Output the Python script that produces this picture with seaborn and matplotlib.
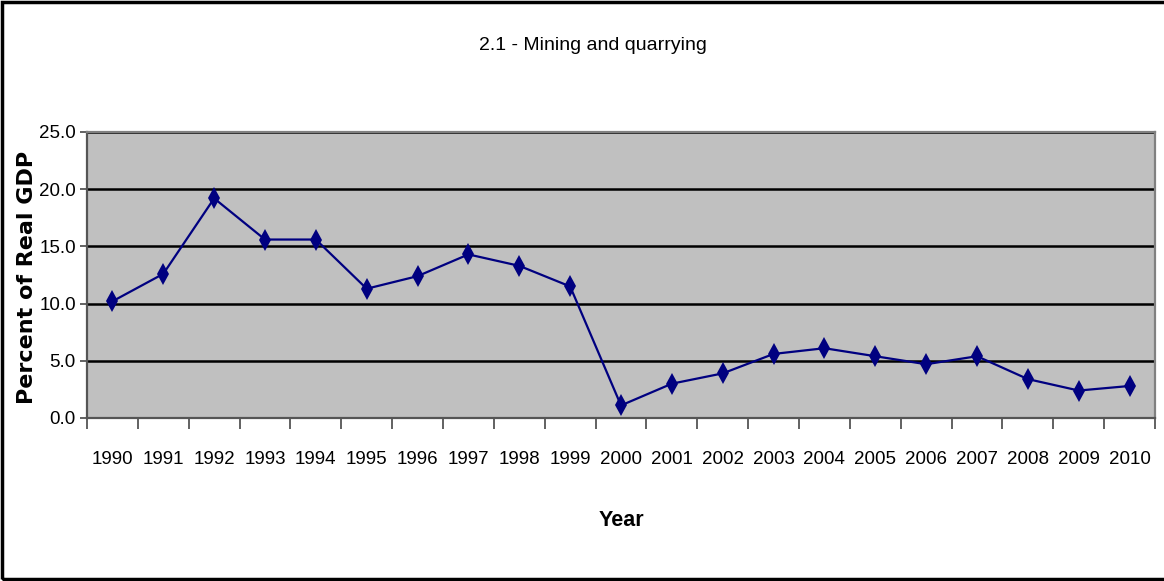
import matplotlib
matplotlib.use('Agg')
from matplotlib import pyplot as plt
from matplotlib.patches import Rectangle
import seaborn as sns
import pandas as pd

# Data
years = [str(y) for y in range(1990, 2011)]
share_gdp = [10.2, 12.6, 19.2, 15.6, 15.6, 11.3, 12.4, 14.3, 13.3, 11.5,
             1.1, 3.0, 3.9, 5.6, 6.1, 5.4, 4.7, 5.4, 3.4, 2.4, 2.8]
y_ticks = [0, 5, 10, 15, 20, 25]

df = pd.DataFrame({'Year': years, 'Share': share_gdp})

sns.set_style('white')
plt.rcParams['font.family'] = ['Liberation Sans Narrow', 'Liberation Sans', 'DejaVu Sans']
plt.rcParams['text.color'] = 'black'
plt.rcParams['xtick.color'] = 'black'
plt.rcParams['ytick.color'] = 'black'
plt.rcParams['axes.labelcolor'] = 'black'

fig = plt.figure(figsize=(11.64, 5.81), dpi=100)
ax = fig.add_axes([87 / 1164, 1 - 418 / 581, (1155 - 87) / 1164, (418 - 132) / 581])
ax.set_facecolor('#c0c0c0')

sns.lineplot(data=df, x='Year', y='Share', sort=False, ax=ax, color='#000080',
             linewidth=1.6, marker='d', markersize=11, markeredgewidth=0,
             markerfacecolor='#000080')

ax.set_xlim(-0.5, len(years) - 0.5)
ax.set_ylim(0, 25)
ax.set_yticks(y_ticks)
ax.set_yticklabels([f'{v:.1f}' for v in y_ticks], fontsize=13.5)
ax.yaxis.grid(True, color='black', linewidth=1.8)
ax.set_axisbelow(True)

# category axis: ticks sit between categories, labels centred
ax.set_xticks([i - 0.5 for i in range(len(years) + 1)])
ax.set_xticklabels([])
ax.set_xticks(range(len(years)), minor=True)
ax.set_xticklabels(years, minor=True, fontsize=13.5)
ax.tick_params(axis='x', which='major', bottom=True, length=8, width=1.3, color='#555555')
ax.tick_params(axis='x', which='minor', bottom=True, length=0, pad=24)
ax.tick_params(axis='y', length=5, width=1.3, color='#555555', pad=3, left=True)

for side in ['left', 'bottom']:
    ax.spines[side].set_color('#555555')
    ax.spines[side].set_linewidth(1.6)
for side in ['top', 'right']:
    ax.spines[side].set_color('#808080')
    ax.spines[side].set_linewidth(1.6)

ax.set_xlabel('Year', fontsize=15.5, fontweight='bold')
ax.xaxis.set_label_coords(0.5, -0.32)
ax.set_ylabel('Percent of Real GDP', fontsize=16, fontweight='bold',
              family=['DejaVu Sans'])
ax.yaxis.set_label_coords(-0.047, 0.49)
fig.text(593 / 1164, 1 - 45 / 581, '2.1 - Mining and quarrying', fontsize=14,
         ha='center', va='center')

# outer chart border
fig.patches.append(Rectangle((0.002, 0.004), 1.2, 0.993, transform=fig.transFigure,
                             fill=False, edgecolor='black', linewidth=2.5))

fig.savefig('out.png', dpi=100)
